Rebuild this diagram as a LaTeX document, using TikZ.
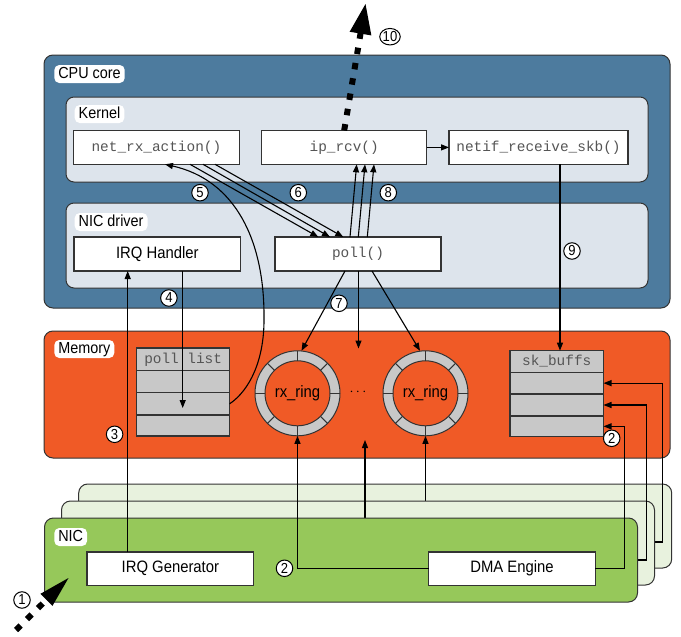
\documentclass[tikz,border=0pt]{standalone}
\usepackage{fontspec}
\setmainfont{Liberation Sans}[FakeStretch=0.9]
\setmonofont{Liberation Mono}
\usetikzlibrary{arrows.meta,calc,shapes.geometric}
\definecolor{cpublue}{HTML}{4D7B9E}
\definecolor{paleblue}{HTML}{DDE4EC}
\definecolor{memorange}{HTML}{F05A26}
\definecolor{nicgreen}{HTML}{96C85A}
\definecolor{palegreen}{HTML}{E8F2DE}
\definecolor{tablegray}{HTML}{C8C8C8}
\definecolor{edge}{HTML}{333333}
\definecolor{monogray}{HTML}{555555}
\newcommand\myring[3]{%
  \fill[tablegray] (#1,#2) circle[radius=42.5];
  \draw[edge,line width=1pt] (#1,#2) circle[radius=42.5];
  \fill[memorange] (#1,#2) circle[radius=32.5];
  \draw[edge,line width=1pt] (#1,#2) circle[radius=32.5];
  \foreach \a in {0,45,...,315}
    \draw[edge,line width=1pt] ($(#1,#2)+(\a:32.5)$) -- ($(#1,#2)+(\a:42.5)$);
  \node[ringtext] (#3) at (#1,#2) {rx\_ring};}
\begin{document}
\begin{tikzpicture}[x=1pt,y=-1pt,
  every node/.style={inner sep=0pt,outer sep=0pt},
  container/.style={draw=edge,line width=1pt,rounded corners=9pt,anchor=north west},
  tag/.style={fill=white,rounded corners=5pt,anchor=north west,inner xsep=4pt,inner ysep=2pt,
    font=\fontsize{16}{18}\selectfont,text height=11.5pt,text depth=2.5pt},
  fbox/.style={draw=edge,fill=white,line width=1.2pt,font=\fontsize{16.5}{18}\selectfont},
  fn/.style={fbox,font=\ttfamily\fontsize{14.4}{16}\selectfont,text=monogray},
  cell/.style={draw=edge,fill=tablegray,line width=1.2pt,anchor=north west,
    font=\ttfamily\fontsize{14.4}{16}\selectfont,text=monogray},
  ringtext/.style={circle,minimum size=85pt,font=\fontsize{16.5}{18}\selectfont},
  num/.style={circle,draw=black,fill=white,line width=1pt,minimum size=16.5pt,
    font=\fontsize{14.5}{14.5}\selectfont},
  arr/.style={draw=black,line width=1.1pt,-{Triangle[length=8pt,width=6pt]}},
  bigarr/.style={draw=black,line width=6pt,dash pattern=on 6.5pt off 9pt}
]
\useasboundingbox (0,0) rectangle (681,637);

% ---------- CPU core ----------
\node[container,fill=cpublue,minimum width=626pt,minimum height=253pt] (cpu) at (44,55) {};
\node[tag] (cpulbl) at (54.3,65) {CPU core};
\node[container,fill=paleblue,minimum width=582pt,minimum height=85pt,rounded corners=8pt] (kernel) at (66,97) {};
\node[tag] (kernellbl) at (74.7,105) {Kernel};
\node[container,fill=paleblue,minimum width=582pt,minimum height=85pt,rounded corners=8pt] (nicdrv) at (66,203) {};
\node[tag] (nicdrvlbl) at (74.7,213) {NIC driver};

% ---------- Memory ----------
\node[container,fill=memorange,minimum width=626pt,minimum height=127pt] (memory) at (44,331) {};
\node[tag] (memlbl) at (54.3,340) {Memory};

\node[cell,minimum width=92.9pt,minimum height=22.7pt] (plh) at (136.7,348) {poll list};
\node[cell,minimum width=92.9pt,minimum height=22pt] (pl1) at (136.7,370.7) {};
\node[cell,minimum width=92.9pt,minimum height=22.3pt] (pl2) at (136.7,392.7) {};
\node[cell,minimum width=92.9pt,minimum height=21pt] (pl3) at (136.7,415) {};

\node[cell,minimum width=93.5pt,minimum height=21.6pt] (skbh) at (510,350.7) {sk\_buffs};
\node[cell,minimum width=93.5pt,minimum height=21.7pt] (skb1) at (510,372.3) {};
\node[cell,minimum width=93.5pt,minimum height=22pt] (skb2) at (510,394) {};
\node[cell,minimum width=93.5pt,minimum height=20.7pt] (skb3) at (510,416) {};

\myring{297.5}{393.3}{ring1}
\myring{425.5}{393.3}{ring2}
\node[font=\fontsize{14}{14}\selectfont] (dots) at (358,392.5) {$\cdots$};

% ---------- NIC layers ----------
\node[container,fill=palegreen,minimum width=593pt,minimum height=84pt] (nic3) at (78.7,484) {};
\coordinate (l3up) at (ring2.south |- 0,540);
\draw[arr] (l3up) -- (ring2.south);
\coordinate (l3dma) at (645,542);
\draw[arr] (l3dma) -- ++(17.7,0) |- (skb1.east);

\node[container,fill=palegreen,minimum width=593pt,minimum height=84pt] (nic2) at (61.5,501) {};
\coordinate (l2up) at (365,540);
\coordinate (dotsin) at (365,440);
\draw[arr] (l2up) -- (dotsin);
\coordinate (l2dma) at (630,560);
\draw[arr] (l2dma) -- ++(16.7,0) |- (skb2.east);

\node[container,fill=nicgreen,minimum width=593pt,minimum height=84pt] (nic) at (44.5,518) {};
\node[tag] (niclbl) at (54.3,528) {NIC};
\node[fbox,minimum width=166.7pt,minimum height=33.5pt] (irqgen) at (170.4,568.7) {IRQ Generator};
\node[fbox,minimum width=166.3pt,minimum height=33.5pt] (dma) at (512,568.7) {DMA Engine};
\draw[arr] (dma.west) -| (ring1.south);
\draw[arr] (dma.east) -- ++(29,0) |- (skb3.east);

% ---------- function boxes ----------
\node[fn,minimum width=165.8pt,minimum height=33.8pt] (netrx) at (156.4,147.4) {net\_rx\_action()};
\node[fn,minimum width=165.3pt,minimum height=33.8pt] (iprcv) at (344.2,147.4) {ip\_rcv()};
\node[fn,minimum width=179pt,minimum height=33.8pt] (netif) at (538.5,147.4) {netif\_receive\_skb()};
\node[fbox,minimum width=166.6pt,minimum height=34pt] (irqh) at (157.3,254) {IRQ Handler};
\node[fn,minimum width=166pt,minimum height=34pt] (poll) at (358,254) {poll()};

% ---------- connectors ----------
\draw[arr] (iprcv.east) -- (netif.west);
% 3: IRQ
\draw[arr] ([xshift=-42.7pt]irqgen.north) -- ([xshift=-42.7pt]irqgen.north |- irqh.south);
% 4: IRQ handler -> poll list
\coordinate (pltip) at (182.7,408);
\draw[arr] (irqh.south -| pltip) -- (pltip);
% 5: poll list -> net_rx_action
\draw[arr] (pl2.east) .. controls (250,390) and (264,360) .. (264,320)
  .. controls (265,240) and (235,180) .. ([xshift=8.6pt]netrx.south);
% 6: net_rx_action -> poll
\draw[arr] ([xshift=33.6pt]netrx.south) -- ([xshift=-39.7pt]poll.north);
\draw[arr] ([xshift=46.6pt]netrx.south) -- ([xshift=-28pt]poll.north);
\draw[arr] ([xshift=58.6pt]netrx.south) -- ([xshift=-14.7pt]poll.north);
% 8: poll -> ip_rcv
\draw[arr] ([xshift=-8pt]poll.north) -- ([xshift=12.5pt]iprcv.south);
\draw[arr] ([xshift=0.3pt]poll.north) -- ([xshift=20.8pt]iprcv.south);
\draw[arr] ([xshift=9.3pt]poll.north) -- ([xshift=29.8pt]iprcv.south);
% 7: poll -> rings
\coordinate (dotstop) at (358.5,348.5);
\draw[arr] ([xshift=-13pt]poll.south) -- ([xshift=4pt]ring1.north);
\draw[arr] ([xshift=0.5pt]poll.south) -- (dotstop);
\draw[arr] ([xshift=14pt]poll.south) -- ([xshift=-5.5pt]ring2.north);
% 9: netif -> sk_buffs
\draw[arr] ([xshift=21.5pt]netif.south) -- ([xshift=21.5pt]netif.south |- skbh.north);

% 10 and 1: thick dotted arrows
\coordinate (tentip) at (365.5,4);
\draw[bigarr] (iprcv.north) -- ($(tentip)!28pt!(iprcv.north)$);
\fill[black] (tentip) -- ($(tentip)!30pt!(iprcv.north)!11pt!90:(iprcv.north)$)
  -- ($(tentip)!30pt!(iprcv.north)!11pt!-90:(iprcv.north)$) -- cycle;
\coordinate (onetail) at (16,630);
\coordinate (onetip) at (68.5,578);
\draw[bigarr] (onetail) -- ($(onetip)!28pt!(onetail)$);
\fill[black] (onetip) -- ($(onetip)!31pt!(onetail)!8.5pt!90:(onetail)$)
  -- ($(onetip)!31pt!(onetail)!8.5pt!-90:(onetail)$) -- cycle;

% ---------- step numbers ----------
\node[num] (n1) at (22,600) {1};
\node[num] (n2a) at (611.7,438.3) {2};
\node[num] (n2b) at (284.5,568.3) {2};
\node[num] (n3) at (114.6,434.3) {3};
\node[num] (n4) at (168.9,298) {4};
\node[num] (n5) at (200,192.7) {5};
\node[num] (n6) at (298.3,192.7) {6};
\node[num] (n7) at (339,303.3) {7};
\node[num] (n8) at (388.3,192.7) {8};
\node[num] (n9) at (572,251) {9};
\node[num,ellipse,minimum width=19pt,minimum height=16.5pt] (n10) at (390,36.7) {10};
\end{tikzpicture}
\end{document}
